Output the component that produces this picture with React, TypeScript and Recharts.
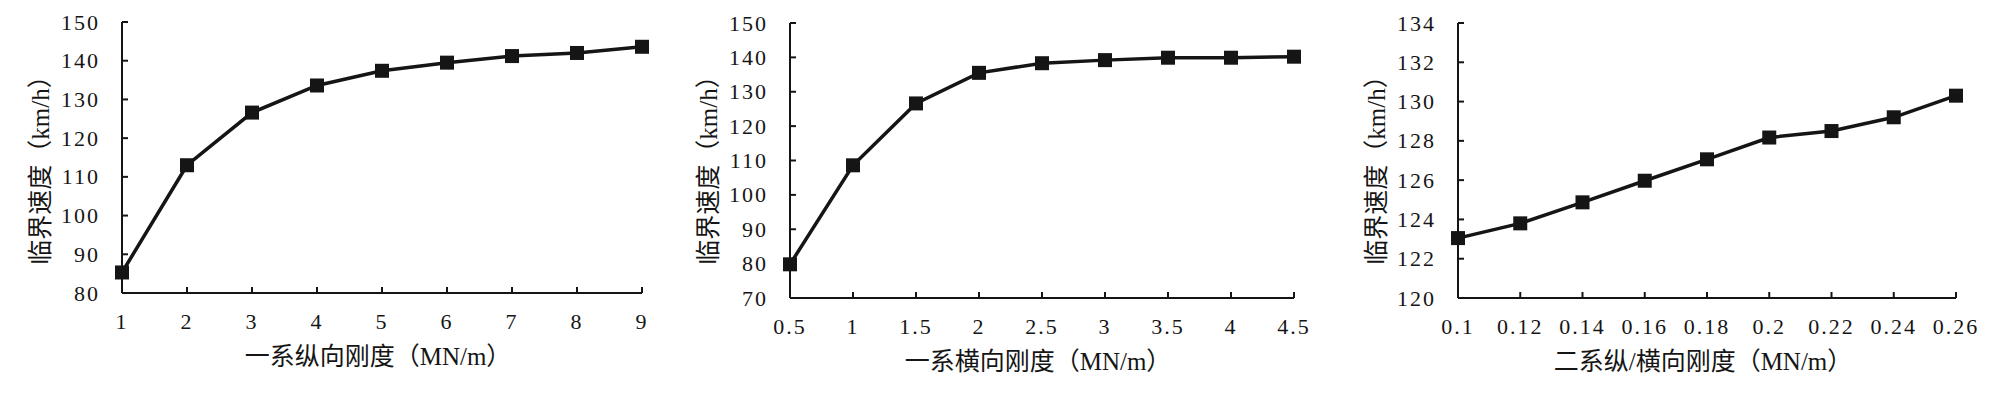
import React from "react";
import { LineChart, Line, XAxis, YAxis, Label } from "recharts";

const FONT = "'Liberation Serif', 'Noto Sans CJK SC', serif";
const INK = "#151515";
const Y_TITLE = "临界速度（km/h）";

// panel 1: primary longitudinal stiffness
const longLabels = ["1", "2", "3", "4", "5", "6", "7", "8", "9"];
const longSpeed = [85.3, 113.0, 126.6, 133.6, 137.4, 139.5, 141.2, 142.0, 143.6];
const longTicks = [80, 90, 100, 110, 120, 130, 140, 150];

// panel 2: primary lateral stiffness
const latLabels = ["0.5", "1", "1.5", "2", "2.5", "3", "3.5", "4", "4.5"];
const latSpeed = [79.8, 108.6, 126.6, 135.5, 138.3, 139.2, 139.9, 139.9, 140.2];
const latTicks = [70, 80, 90, 100, 110, 120, 130, 140, 150];

// panel 3: secondary stiffness
const secLabels = ["0.1", "0.12", "0.14", "0.16", "0.18", "0.2", "0.22", "0.24", "0.26"];
const secSpeed = [123.05, 123.8, 124.87, 125.97, 127.06, 128.17, 128.5, 129.2, 130.3];
const secTicks = [120, 122, 124, 126, 128, 130, 132, 134];

const X_MARGIN = 28;
const Y_MARGIN = 22;
const XH = 80;
const YW = 60;

function XTick(props: any) {
  const { x, y, payload } = props;
  const axisY = y - X_MARGIN;
  return (
    <g>
      <line x1={x} x2={x} y1={axisY} y2={axisY - 6} stroke={INK} strokeWidth={2} />
      <text x={x} y={y} textAnchor="middle" dominantBaseline="central"
        fontFamily={FONT} fontSize={22} letterSpacing={2} fill={INK}>
        {payload.value}
      </text>
    </g>
  );
}

function YTick(props: any) {
  const { x, y, payload } = props;
  const axisX = x + Y_MARGIN;
  return (
    <g>
      <line x1={axisX} x2={axisX + 6} y1={y} y2={y} stroke={INK} strokeWidth={2} />
      <text x={x} y={y} textAnchor="end" dominantBaseline="central"
        fontFamily={FONT} fontSize={22} letterSpacing={2} fill={INK}>
        {payload.value}
      </text>
    </g>
  );
}

function Panel({ left, width, plot, labels, values, yTicks, xTitle }: any) {
  const data = labels.map((x: string, i: number) => ({ x, v: values[i] }));
  return (
    <div style={{ position: "absolute", left, top: 0 }}>
      <LineChart
        width={width}
        height={400}
        data={data}
        margin={{ top: plot.top, right: width - plot.right, bottom: 400 - plot.bottom - XH, left: plot.left - YW }}
      >
        <XAxis
          dataKey="x"
          height={XH}
          interval={0}
          tickSize={0}
          tickMargin={X_MARGIN}
          tickLine={false}
          axisLine={{ stroke: INK, strokeWidth: 2 }}
          tick={<XTick />}
        >
          <Label
            content={(p: any) => {
              const vb = p.viewBox;
              return (
                <text x={vb.x + vb.width / 2 - 4} y={vb.y + 63} textAnchor="middle" dominantBaseline="central"
                  fontFamily={FONT} fontSize={25} fill={INK}>
                  {xTitle}
                </text>
              );
            }}
          />
        </XAxis>
        <YAxis
          type="number"
          width={YW}
          domain={[yTicks[0], yTicks[yTicks.length - 1]]}
          ticks={yTicks}
          interval={0}
          tickSize={0}
          tickMargin={Y_MARGIN}
          tickLine={false}
          axisLine={{ stroke: INK, strokeWidth: 2 }}
          tick={<YTick />}
        >
          <Label
            content={(p: any) => {
              const vb = p.viewBox;
              const tx = vb.x + vb.width - 82;
              const ty = 164;
              return (
                <text x={tx} y={ty} transform={`rotate(-90 ${tx} ${ty})`} textAnchor="middle"
                  dominantBaseline="central" fontFamily={FONT} fontSize={25} fill={INK}>
                  {Y_TITLE}
                </text>
              );
            }}
          />
        </YAxis>
        <Line
          dataKey="v"
          stroke={INK}
          strokeWidth={3.5}
          isAnimationActive={false}
          dot={(d: any) => (
            <rect key={d.index} x={d.cx - 7} y={d.cy - 7} width={14} height={14} fill={INK} />
          )}
          activeDot={false}
        />
      </LineChart>
    </div>
  );
}

export default function App() {
  return (
    <div style={{ position: "absolute", left: 0, top: 0, width: 2000, height: 400, background: "#fff" }}>
      <Panel left={0} width={680} plot={{ left: 122, right: 642, top: 22, bottom: 293 }}
        labels={longLabels} values={longSpeed} yTicks={longTicks} xTitle="一系纵向刚度（MN/m）" />
      <Panel left={680} width={660} plot={{ left: 110, right: 614, top: 23, bottom: 298 }}
        labels={latLabels} values={latSpeed} yTicks={latTicks} xTitle="一系横向刚度（MN/m）" />
      <Panel left={1340} width={660} plot={{ left: 118, right: 616, top: 23, bottom: 298 }}
        labels={secLabels} values={secSpeed} yTicks={secTicks} xTitle="二系纵/横向刚度（MN/m）" />
    </div>
  );
}
